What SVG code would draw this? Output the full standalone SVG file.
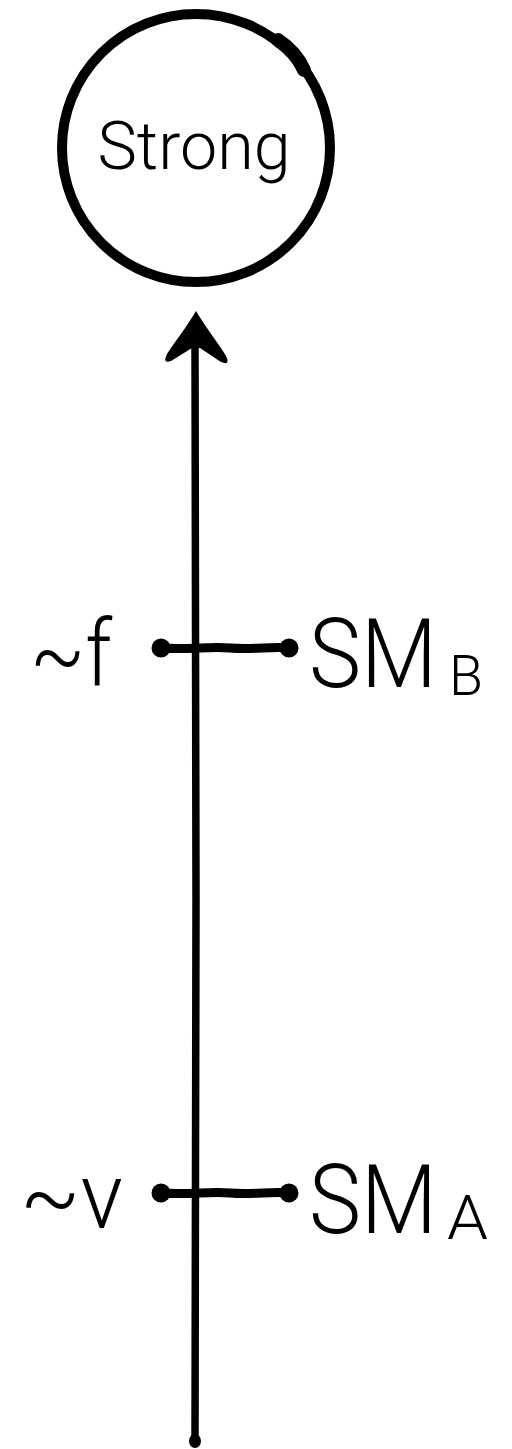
<svg xmlns="http://www.w3.org/2000/svg" width="512" height="1449" viewBox="0 0 512 1449">
<style>
.t{font-family:Roboto,"Liberation Sans",Arial,sans-serif;font-weight:300;fill:#000}
.ln{fill:none;stroke:#000;stroke-linecap:round;stroke-linejoin:round}
.bulb{fill:#000}
</style>
<rect width="512" height="1449" fill="#fff"/>
<g id="connectors">
  <path class="ln" stroke-width="7.5" d="M195,345 C196,500 194,700 196,900 C197,1100 194,1300 195,1440"/>
  <ellipse cx="195" cy="1441" rx="6" ry="7" fill="#000"/>
  <path d="M196,311 C186,328 174,343 167,354 Q162,364 171,361 L192,348 L200,348 L221,362 Q231,366 226,356 C219,344 206,328 196,311 Z" fill="#000"/>
</g>
<g id="strong">
  <circle cx="196" cy="148" r="134" fill="#fff" stroke="#000" stroke-width="10"/>
  <path d="M278,40 Q296,52 304,70" fill="none" stroke="#000" stroke-width="14" stroke-linecap="round"/>
  <text class="t" x="194" y="169" font-size="67" text-anchor="middle" textLength="193" lengthAdjust="spacingAndGlyphs">Strong</text>
</g>
<g id="smb">
  <path class="ln" stroke-width="9" d="M160,648 C190,650 210,646 230,648 C255,650 270,646 291,648"/>
  <circle class="bulb" cx="161" cy="648" r="9.5"/>
  <circle class="bulb" cx="289" cy="648" r="9.5"/>
  <text class="t" x="30" y="686" font-size="92" textLength="82" lengthAdjust="spacingAndGlyphs">~f</text>
  <text class="t" x="309" y="687" font-size="96" textLength="128" lengthAdjust="spacingAndGlyphs">SM</text>
  <text class="t" x="449" y="695" font-size="56" textLength="34" lengthAdjust="spacingAndGlyphs">B</text>
</g>
<g id="sma">
  <path class="ln" stroke-width="9" d="M160,1193 C190,1195 210,1191 230,1193 C255,1195 270,1191 291,1193"/>
  <circle class="bulb" cx="161" cy="1193" r="9.5"/>
  <circle class="bulb" cx="289" cy="1193" r="9.5"/>
  <text class="t" x="20" y="1228" font-size="92" textLength="103" lengthAdjust="spacingAndGlyphs">~v</text>
  <text class="t" x="309" y="1233" font-size="96" textLength="128" lengthAdjust="spacingAndGlyphs">SM</text>
  <text class="t" x="447" y="1239" font-size="62" textLength="41" lengthAdjust="spacingAndGlyphs">A</text>
</g>
</svg>
